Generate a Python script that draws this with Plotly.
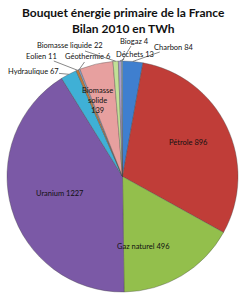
import math
import plotly.graph_objects as go

labels = ["Charbon", "Pétrole", "Gaz naturel", "Uranium", "Hydraulique", "Eolien",
          "Géothermie", "Biomasse solide", "Biomasse liquide", "Déchets", "Biogaz"]
values = [84, 896, 496, 1227, 67, 11, 6, 139, 22, 13, 4]
texts = ["Charbon 84", "Pétrole 896", "Gaz naturel 496", "Uranium 1227", "Hydraulique 67",
         "Eolien 11", "Géothermie 6", "Biomasse<br>solide<br>139", "Biomasse liquide 22",
         "Déchets 13", "Biogaz 4"]
colors = ["#3f7fcf", "#c03d38", "#93bf4c", "#7b59a6", "#3fb0d6", "#c07a3c",
          "#8fb0e0", "#e7a09f", "#c2e096", "#a99cd0", "#9fdcef"]

W, H = 246, 299
cx, cy, R = 122.5, 176.5, 115.5

# label placement: (mode, x, y) pixel text centre, inside or outside with leader line
placement = {
    0: ("out", 174, 47),
    1: ("in", 210, 142),
    2: ("in", 172, 253),
    3: ("in", 34, 200),
    4: ("out", 33, 71),
    5: ("out", 41, 56),
    6: ("out", 88, 57),
    7: ("in", 97, 84),
    8: ("out", 70, 46),
    9: ("out", 135, 54),
    10: ("out", 134, 41),
}

fig = go.Figure(go.Pie(
    labels=labels, values=values, sort=False, direction="clockwise", rotation=0,
    marker=dict(colors=colors, line=dict(color="rgba(70,70,70,0.6)", width=0.6)),
    textinfo="none", hoverinfo="label+value", showlegend=False,
    domain=dict(x=[(cx - R) / W, (cx + R) / W], y=[1 - (cy + R) / H, 1 - (cy - R) / H]),
))

total = sum(values)
cum = 0
anns = []
for i, v in enumerate(values):
    mid = (cum + v / 2) / total * 2 * math.pi
    cum += v
    ex = cx + R * math.sin(mid)
    ey = cy - R * math.cos(mid)
    mode, tx, ty = placement[i]
    font = dict(family="Lato", size=7.5, color="#111111")
    if mode == "in":
        anns.append(dict(x=tx / W, y=1 - ty / H, xref="paper", yref="paper", text=texts[i],
                         showarrow=False, font=font))
    else:
        anns.append(dict(x=ex / W, y=1 - ey / H, xref="paper", yref="paper", text=texts[i],
                         showarrow=True, arrowhead=0, arrowwidth=0.7, arrowcolor="#555555",
                         ax=tx - ex, ay=ty - ey, font=font, standoff=0, borderpad=0))

anns.append(dict(x=0.5, y=1 - 3 / H, xref="paper", yref="paper", yanchor="top",
                 text="<b>Bouquet énergie primaire de la France<br>Bilan 2010 en TWh</b>",
                 showarrow=False, font=dict(family="Lato", size=12, color="#111111")))

fig.update_layout(width=W, height=H, margin=dict(l=0, r=0, t=0, b=0),
                  paper_bgcolor="white", annotations=anns)
fig.write_html("out.html")
